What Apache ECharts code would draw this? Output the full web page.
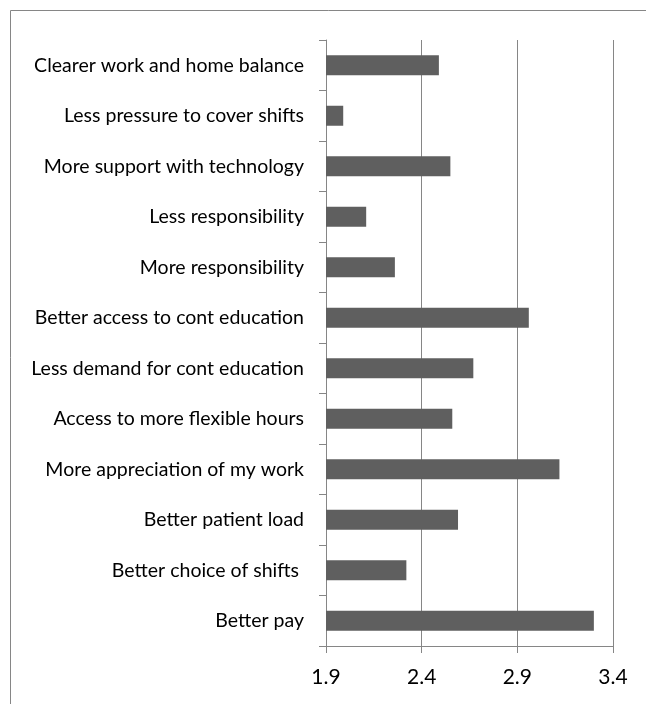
<!DOCTYPE html>
<html>
<head>
<meta charset="utf-8">
<script src="https://cdn.jsdelivr.net/npm/echarts@6/dist/echarts.min.js"></script>
<style>
  html, body { margin: 0; padding: 0; background: #fff; }
  #chart { width: 646px; height: 704px; }
</style>
</head>
<body>
<div id="chart"></div>
<script>
// Reasons listed top to bottom
const categories = [
  'Clearer work and home balance',
  'Less pressure to cover shifts',
  'More support with technology',
  'Less responsibility',
  'More responsibility',
  'Better access to cont education',
  'Less demand for cont education',
  'Access to more flexible hours',
  'More appreciation of my work',
  'Better patient load',
  'Better choice of shifts ',
  'Better pay'
];
const meanScores = [2.49, 1.99, 2.55, 2.11, 2.26, 2.96, 2.67, 2.56, 3.12, 2.59, 2.32, 3.30];
const xTicks = [1.9, 2.4, 2.9, 3.4];

const FONT = 'Lato, "Open Sans", sans-serif';
const AXIS_GREY = '#868686';

const chart = echarts.init(document.getElementById('chart'), null, { renderer: 'canvas' });
chart.setOption({
  animation: false,
  backgroundColor: '#ffffff',
  graphic: [{
    type: 'rect',
    shape: { x: 10.5, y: 10.5, width: 700, height: 800 },
    style: { fill: 'none', stroke: AXIS_GREY, lineWidth: 1 },
    silent: true
  }],
  grid: { left: 326, top: 40, right: 33, bottom: 58, containLabel: false },
  xAxis: {
    type: 'value',
    min: xTicks[0],
    max: xTicks[xTicks.length - 1],
    interval: 0.5,
    axisLine: { show: true, lineStyle: { color: AXIS_GREY, width: 1 } },
    axisTick: { show: true, length: 7, lineStyle: { color: AXIS_GREY } },
    splitLine: { show: true, lineStyle: { color: AXIS_GREY, width: 1 } },
    axisLabel: {
      color: '#000', fontFamily: FONT, fontSize: 21, margin: 21,
      formatter: v => v.toFixed(1)
    }
  },
  yAxis: {
    type: 'category',
    data: categories,
    inverse: true,
    axisLine: { show: true, lineStyle: { color: AXIS_GREY, width: 1 } },
    axisTick: { show: true, length: 7, lineStyle: { color: AXIS_GREY } },
    splitLine: { show: false },
    axisLabel: { color: '#000', fontFamily: FONT, fontSize: 19.5, margin: 22 }
  },
  series: [{
    type: 'bar',
    data: meanScores,
    barWidth: 20,
    itemStyle: { color: '#5f5f5f' }
  }]
});
</script>
</body>
</html>
